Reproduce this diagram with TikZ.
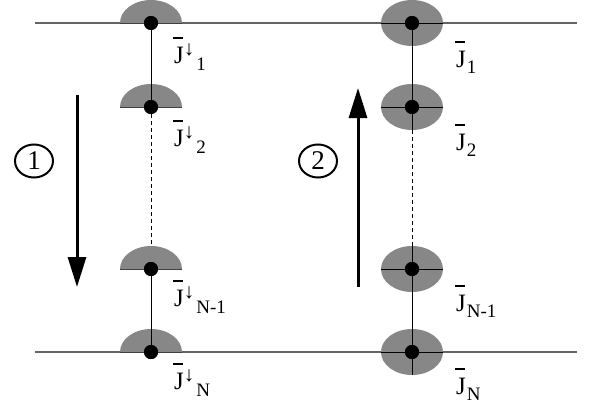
\documentclass[tikz,border=0pt]{standalone}
\usepackage{fontspec}
\setmainfont{Liberation Serif}
\usetikzlibrary{arrows.meta,shapes.geometric}
\definecolor{diskgray}{RGB}{135,135,135}
\definecolor{linegray}{RGB}{100,100,100}
\newcommand\jb{\rlap{\hspace{-1pt}\raisebox{24pt}{\rule{10pt}{1.7pt}}}J}
\newcommand\dn{\raisebox{8pt}{\fontsize{21}{21}\selectfont ↓}}
\newcommand\lsub[1]{\raisebox{-7pt}{\fontsize{19}{19}\selectfont #1}}
\newcommand\rsub[1]{\raisebox{-6pt}{\fontsize{19}{19}\selectfont #1}}
\begin{document}
\begin{tikzpicture}[x=1pt,y=-1pt,
  dot/.style={circle,fill=black,inner sep=0pt,minimum size=14pt},
  lab/.style={inner sep=0pt,anchor=base west,font=\fontsize{25}{28}\selectfont},
  circ/.style={ellipse,draw,line width=2pt,minimum width=38pt,minimum height=33pt,inner sep=0pt,font=\fontsize{27}{28}\selectfont},
  bigarrow/.style={line width=3pt,-{Triangle[width=18pt,length=30pt]}},
  conn/.style={line width=0.9pt},
  dconn/.style={line width=0.9pt,dash pattern=on 4pt off 3pt},
  rail/.style={linegray,line width=1.2pt},
  disk/.style={fill=diskgray}]
\useasboundingbox (0,0) rectangle (592,410);
% rails
\coordinate (t0) at (35,23); \coordinate (t1) at (577,23);
\coordinate (b0) at (35,352); \coordinate (b1) at (577,352);
\draw[rail] (t0) -- (t1);
\draw[rail] (b0) -- (b1);
% left half disks
\foreach \y in {23,107,269,352}{
  \fill[disk] (120,\y) arc[start angle=180,end angle=0,x radius=31pt,y radius=23pt] -- cycle;
  \draw[line width=1pt,black!75] (120,\y) -- (182,\y);
}
% right ellipses
\foreach \y in {23,107,269,352}{
  \fill[disk] (412,\y) ellipse[x radius=31pt,y radius=23pt];
  \draw[line width=1pt] (381,\y) -- (443,\y);
}
% dots
\node[dot] (L1) at (151,23) {};
\node[dot] (L2) at (151,107) {};
\node[dot] (L3) at (151,269) {};
\node[dot] (L4) at (151,352) {};
\node[dot] (R1) at (412,23) {};
\node[dot] (R2) at (412,107) {};
\node[dot] (R3) at (412,269) {};
\node[dot] (R4) at (412,352) {};
\coordinate (L3t) at (151,246);
\coordinate (R2b) at (412,130);
\coordinate (R3t) at (412,246);
\coordinate (R4b) at (412,375);
% connectors
\draw[conn] (L1.center) -- (L2.center);
\draw[dconn] (L2.center) -- (L3t);
\draw[conn] (L3.center) -- (L4.center);
\draw[conn] (R1.center) -- (R2b);
\draw[dconn] (R2b) -- (R3t);
\draw[conn] (R3t) -- (R4b);
\node[dot] at (L1) {};\node[dot] at (L2) {};\node[dot] at (L3) {};\node[dot] at (L4) {};
\node[dot] at (R1) {};\node[dot] at (R2) {};\node[dot] at (R3) {};\node[dot] at (R4) {};
% labels
\node[lab] (lj1) at (174,63) {\jb\dn\hspace{2pt}\lsub{1}};
\node[lab] (lj2) at (174,146) {\jb\dn\hspace{2pt}\lsub{2}};
\node[lab] (lj3) at (174,306) {\jb\dn\hspace{2pt}\lsub{N-1}};
\node[lab] (lj4) at (174,389) {\jb\dn\hspace{2pt}\lsub{N}};
\node[lab] (rj1) at (456,67) {\jb\hspace{1pt}\rsub{1}};
\node[lab] (rj2) at (456,150) {\jb\hspace{1pt}\rsub{2}};
\node[lab] (rj3) at (456,311) {\jb\hspace{1pt}\rsub{N-1}};
\node[lab] (rj4) at (456,394) {\jb\hspace{1pt}\rsub{N}};
% arrows and circled numbers
\coordinate (a1s) at (77,95); \coordinate (a1e) at (77,287);
\coordinate (a2s) at (358,287); \coordinate (a2e) at (358,88);
\draw[bigarrow] (a1s) -- (a1e);
\draw[bigarrow] (a2s) -- (a2e);
\node[circ] (c1) at (34,161) {1};
\node[circ] (c2) at (318,161) {2};
\end{tikzpicture}
\end{document}
